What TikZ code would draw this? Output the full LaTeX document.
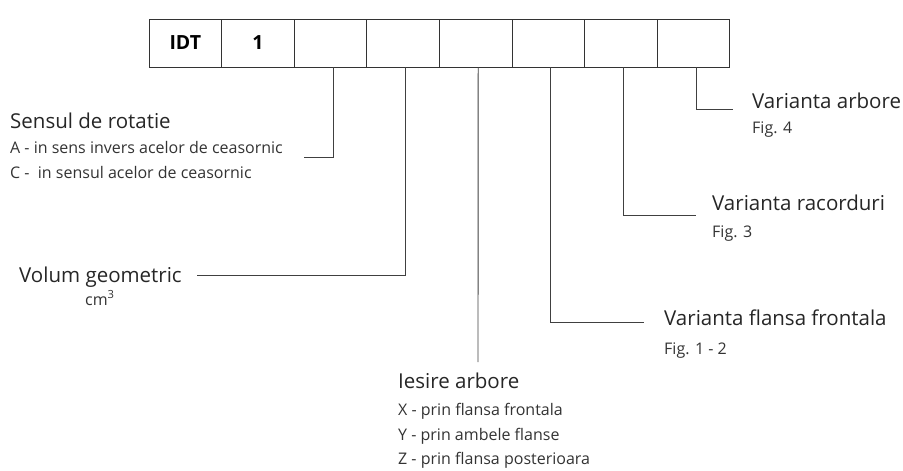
\documentclass[tikz,border=0pt]{standalone}
\usepackage{fontspec}
\setmainfont{Open Sans}
\begin{document}
\begin{tikzpicture}[x=1pt,y=-1pt,
  cell/.style={draw=black!80, line width=0.9pt, minimum width=72.6pt, minimum height=48pt, inner sep=0pt, outer sep=0pt, font=\fontsize{19.5}{21}\selectfont\bfseries},
  wire/.style={draw=black!75, line width=0.9pt},
  title/.style={anchor=base west, inner sep=0pt, text=black!85, font=\fontsize{20.5}{24}\selectfont},
  note/.style={anchor=base west, inner sep=0pt, text=black!80, font=\fontsize{16}{19}\selectfont}]
\useasboundingbox (0,0) rectangle (903,471);
% row of code cells
\node[cell] (b1) at (185.3,43) {IDT};
\foreach \i/\t [remember=\i as \p (initially 1)] in {2/1,3/,4/,5/,6/,7/,8/} {
  \node[cell, anchor=west] (b\i) at (b\p.east) {\t};
}
% left-hand labels
\node[title] (sens) at (10,128) {Sensul de rotatie};
\node[note] (sensA) at (10,153) {A - in sens invers acelor de ceasornic};
\node[note] (sensC) at (10,178) {C -\ \ in sensul acelor de ceasornic};
\node[title] (vol) at (19,282) {Volum geometric};
\node[note] (cm) at (85,305) {cm\textsuperscript{3}};
% bottom labels
\node[title] (ies) at (398,388) {Iesire arbore};
\node[note] (iesX) at (398,415) {X - prin flansa frontala};
\node[note] (iesY) at (398,440) {Y - prin ambele flanse};
\node[note] (iesZ) at (398,464) {Z - prin flansa posterioara};
% right-hand labels
\node[title] (fla) at (664,325) {Varianta flansa frontala};
\node[note] (flaF) at (664,354) {Fig. 1 - 2};
\node[title] (rac) at (712,210) {Varianta racorduri};
\node[note] (racF) at (712,237) {Fig. 3};
\node[title] (arb) at (752,108) {Varianta arbore};
\node[note] (arbF) at (752,133) {Fig. 4};
% elbow ends of the leader lines
\coordinate (e3) at (304,157);
\coordinate (e4) at (197,275);
\coordinate (e5) at (478,362);
\coordinate (e6) at (644,322.5);
\coordinate (e7) at (696,215);
\coordinate (e8) at (733,109);
% leader lines
\draw[wire] ([xshift=2.5pt]b3.south) |- (e3);
\draw[wire] ([xshift=2.5pt]b4.south) |- (e4);
\draw[wire] ([xshift=2.5pt]b5.south) -- (e5);
\draw[wire] ([xshift=2.5pt]b6.south) |- (e6);
\draw[wire] ([xshift=2.5pt]b7.south) |- (e7);
\draw[wire] ([xshift=2.5pt]b8.south) |- (e8);
\end{tikzpicture}
\end{document}
